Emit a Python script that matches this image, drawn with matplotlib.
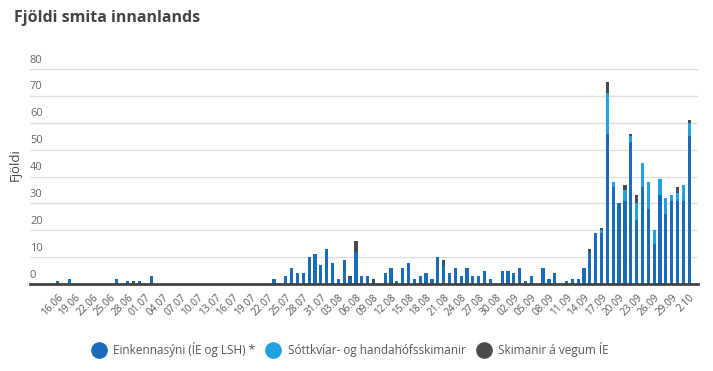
import matplotlib
matplotlib.use("Agg")
import matplotlib.pyplot as plt
import numpy as np
from matplotlib.transforms import ScaledTranslation
from matplotlib.lines import Line2D
import datetime as dt

# ---- data ----
start = dt.date(2020, 6, 16)
n_days = 109
dates = [start + dt.timedelta(days=i) for i in range(n_days)]

# values keyed by day index (0 = 16.06)
einkenna_vals = {0: 1, 2: 2, 10: 2, 12: 1, 14: 1, 16: 3, 37: 2, 39: 3, 40: 6, 41: 4, 42: 4,
                 43: 10, 44: 11, 45: 7, 46: 13, 47: 8, 48: 2, 49: 9, 50: 2, 51: 12, 52: 3,
                 53: 3, 56: 4, 57: 6, 58: 1, 59: 6, 60: 8, 61: 2, 62: 3, 63: 4, 64: 2,
                 65: 10, 66: 7, 67: 4, 68: 6, 69: 3, 70: 6, 71: 3, 72: 3, 73: 5, 74: 2,
                 76: 5, 77: 5, 78: 4, 79: 6, 80: 1, 81: 3, 83: 6, 84: 2, 85: 4, 87: 1,
                 88: 2, 89: 2, 90: 6, 91: 12, 92: 19, 93: 19, 94: 56, 95: 36, 96: 30,
                 97: 31, 98: 53, 99: 24, 100: 36, 101: 28, 102: 15, 103: 33, 104: 26,
                 105: 31, 106: 31, 107: 31, 108: 55}
sottkvi_vals = {93: 1, 94: 15, 95: 2, 97: 4, 98: 2, 99: 6, 100: 9, 101: 10, 102: 5,
                103: 6, 104: 6, 105: 2, 106: 3, 107: 6, 108: 5}
ie_vals = {13: 1, 50: 1, 51: 4, 54: 2, 66: 2, 91: 1, 93: 1, 94: 4, 97: 2, 98: 1,
           99: 3, 106: 2, 108: 1}

einkenna = np.array([einkenna_vals.get(i, 0) for i in range(n_days)])
sottkvi = np.array([sottkvi_vals.get(i, 0) for i in range(n_days)])
ie = np.array([ie_vals.get(i, 0) for i in range(n_days)])

tick_idx = list(range(0, n_days, 3))
tick_labels = [dates[i].strftime("%d.%m") for i in tick_idx]
tick_labels[-1] = "2.10"

series_names = ["Einkennasýni (ÍE og LSH) *", "Sóttkvíar- og handahófsskimanir",
                "Skimanir á vegum ÍE"]
colors = ["#1a6cb8", "#22a0e0", "#4a4a4a"]

# ---- figure ----
plt.rcParams['font.family'] = ['Open Sans', 'DejaVu Sans']
fig = plt.figure(figsize=(7.13, 3.71), dpi=100)
ax = fig.add_axes([0.042, 0.2345, 0.937, 0.5795])

x = np.arange(n_days)
w = 0.55
ax.bar(x, einkenna, width=w, color=colors[0], zorder=3)
ax.bar(x, sottkvi, width=w, bottom=einkenna, color=colors[1], zorder=3)
ax.bar(x, ie, width=w, bottom=einkenna + sottkvi, color=colors[2], zorder=3)

ax.set_xlim(-4.74, 109.5)
ax.set_ylim(0, 80)
ax.set_yticks(range(0, 81, 10))
ax.grid(axis='y', color='#dddddd', linewidth=1, zorder=0)
for s in ['top', 'right', 'left']:
    ax.spines[s].set_visible(False)
ax.spines['bottom'].set_color('#444444')
ax.spines['bottom'].set_linewidth(2)
ax.spines['bottom'].set_zorder(4)

ax.tick_params(axis='y', length=0, pad=0, labelsize=8, labelcolor='#666666')
for lbl in ax.get_yticklabels():
    lbl.set_horizontalalignment('left')
    lbl.set_verticalalignment('bottom')
    lbl.set_transform(lbl.get_transform() + ScaledTranslation(0, 2.5 / 72, fig.dpi_scale_trans))

ax.set_xticks(tick_idx)
ax.set_xticklabels(tick_labels, rotation=45, ha='right', rotation_mode='anchor')
ax.tick_params(axis='x', length=0, pad=6, labelsize=7.3, labelcolor='#555555')

ax.set_ylabel("Fjöldi", fontsize=9.5, color='#444444')
ax.yaxis.set_label_coords(-0.013, 0.553)

fig.text(0.02, 0.952, "Fjöldi smita innanlands", fontsize=11.5, fontweight='bold',
         color='#444444', va='center', ha='left')

handles = [Line2D([0], [0], marker='o', linestyle='none', markersize=11,
                  markerfacecolor=c, markeredgecolor=c) for c in colors]
fig.legend(handles, series_names, loc='center', bbox_to_anchor=(0.488, 0.057), ncol=3,
           frameon=False, fontsize=8.5, handletextpad=0.25, columnspacing=0.5,
           labelcolor='#555555')

fig.savefig("out.png", dpi=100)
